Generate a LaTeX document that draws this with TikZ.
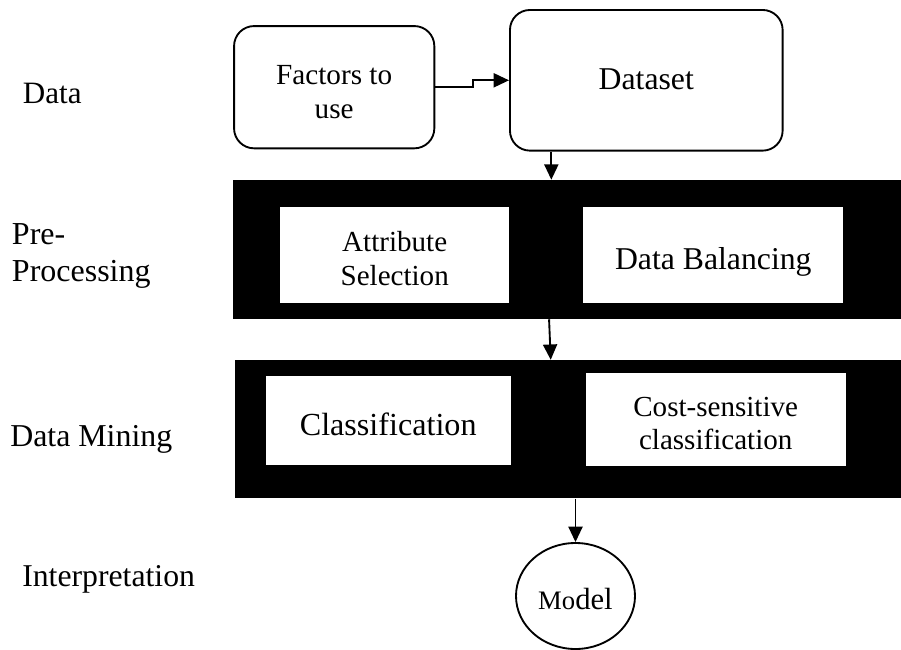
\documentclass[tikz,border=0pt]{standalone}
\usepackage{fontspec}
\setmainfont{Liberation Serif}
\usetikzlibrary{arrows.meta,shapes.geometric,calc}

\tikzset{
  frame/.style={draw=black, line width=1.4pt, fill=white, inner sep=0pt},
  softbox/.style={frame, rectangle, rounded corners=#1},
  band/.style={fill=black, draw=none, inner sep=0pt, rectangle},
  slot/.style={fill=white, draw=none, inner sep=0pt, rectangle},
  caption/.style={inner sep=0pt, align=center},
  phase/.style={inner sep=0pt, align=left},
  link/.style={line width=1.4pt, -{Triangle[length=11.5pt,width=10.5pt]}},
}

\begin{document}
\begin{tikzpicture}[x=0.75pt, y=-0.75pt]
  \useasboundingbox (0,0) rectangle (901,650);

  % phase names on the left
  \node[phase, anchor=base west, font=\fontsize{23.3}{26}\selectfont] (pdata) at (22.7,103) {Data};
  \node[phase, anchor=west, font=\fontsize{24}{27.5}\selectfont] (ppre) at (11.7,256.3) {Pre-\\Processing};
  \node[phase, anchor=base west, font=\fontsize{23.9}{26}\selectfont] (pmine) at (10,446.7) {Data Mining};
  \node[phase, anchor=base west, font=\fontsize{23.8}{26}\selectfont] (pint) at (22,586.7) {Interpretation};

  % data stage
  \node[softbox=15pt, minimum width=150.2pt, minimum height=91.7pt] (factors) at (334.2,87.2) {};
  \node[caption, font=\fontsize{21.9}{25}\selectfont] (factorsT) at ($(factors)+(0,4.8)$) {Factors to\\use};
  \node[softbox=15pt, minimum width=204.5pt, minimum height=105.5pt] (dataset) at (646.3,80.3) {};
  \node[caption, font=\fontsize{23.8}{26}\selectfont] (datasetT) at ($(dataset)+(0,-1.5)$) {Dataset};

  % pre-processing band
  \node[band, minimum width=500.8pt, minimum height=104.25pt] (pre) at (567.2,249.5) {};
  \node[slot, minimum width=172pt, minimum height=71.5pt] (attr) at (394.7,255) {};
  \node[caption, font=\fontsize{21.8}{25}\selectfont] (attrT) at ($(attr)+(0,3.4)$) {Attribute\\Selection};
  \node[slot, minimum width=195pt, minimum height=71.5pt] (bal) at (713.3,255) {};
  \node[caption, font=\fontsize{23.8}{26}\selectfont] (balT) at ($(bal)+(0,6.6)$) {Data Balancing};

  % data mining band
  \node[band, minimum width=499.5pt, minimum height=103.7pt] (mine) at (568,429.2) {};
  \node[slot, minimum width=183.75pt, minimum height=67.2pt] (cls) at (388.2,420.5) {};
  \node[caption, font=\fontsize{24.1}{26}\selectfont] (clsT) at ($(cls)+(0,3.5)$) {Classification};
  \node[slot, minimum width=195pt, minimum height=69.2pt] (cost) at (715.7,419.4) {};
  \node[caption, font=\fontsize{21.8}{24.5}\selectfont] (costT) at ($(cost)+(0,4.3)$) {Cost-sensitive\\classification};

  % interpretation
  \node[frame, ellipse, minimum width=89.25pt, minimum height=79.5pt] (model) at (575.5,596) {};
  \node[caption] (modelT) at ($(model)+(0,3.5)$)
        {{\fontsize{20}{24}\selectfont Mo}{\fontsize{23}{24}\selectfont del}};

  % connectors
  \draw[link] (factors.east) -- ++(38,0) |- (dataset.west);
  \draw[link] ($(dataset.south west)+(42.3,0)$) coordinate (dsout) -- (dsout |- pre.north);
  \draw[link] ($(pre.south west)+(316,0)$) -- ($(mine.north west)+(316,0)$);
  \draw[link] (mine.south -| model.north) -- (model.north);
\end{tikzpicture}
\end{document}
